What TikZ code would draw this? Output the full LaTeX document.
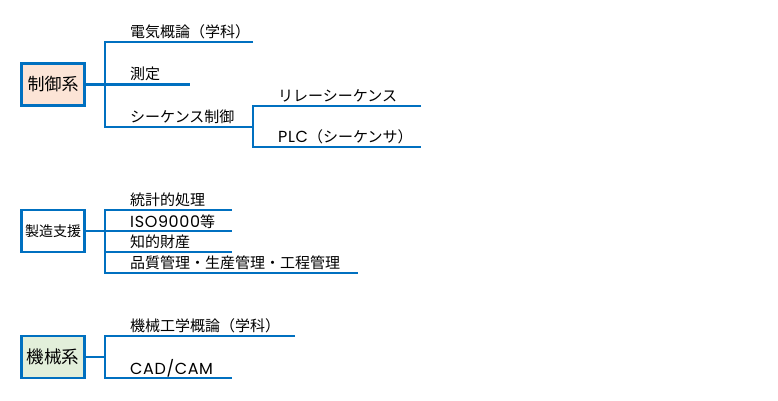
\documentclass[tikz,border=0pt]{standalone}
\usepackage{fontspec}
\setmainfont{Noto Sans CJK JP}
\newfontfamily\latf{Poppins}[LetterSpace=4]
\newcommand{\wlat}[1]{{\latf\fontsize{16pt}{16pt}\selectfont #1}}
\definecolor{lineblue}{HTML}{0070C0}
\definecolor{peach}{HTML}{FCE4D6}
\definecolor{lightgreen}{HTML}{E2EFDA}
\tikzset{
  topicbox/.style={draw=lineblue, line width=2.6pt, rectangle, minimum width=63.4pt, minimum height=41.8pt, inner sep=0pt, text=black},
  conn/.style={draw=lineblue, line width=2.8pt, line join=miter},
  lbl/.style={anchor=base west, inner sep=0pt, font=\fontsize{15pt}{15pt}\selectfont, text=black},
}
\begin{document}
\begin{tikzpicture}[x=1pt,y=-1pt]
\useasboundingbox (0,0) rectangle (778,400);

% ---------- group 1 ----------
\node[topicbox, fill=peach, font=\fontsize{17pt}{17pt}\selectfont] (b1) at (53,84.3) {制御系};
\coordinate (t1a) at (105,42);
\coordinate (t1m) at (105,84.3);
\coordinate (t1b) at (105,127);
\coordinate (e1a) at (253,42);
\coordinate (e1m) at (190,84.3);
\coordinate (s1a) at (253,106);
\coordinate (s1m) at (253,127);
\coordinate (s1b) at (253,147);
\coordinate (f1a) at (421,106);
\coordinate (f1b) at (421,147);
\draw[conn] (b1.east) -- (t1m);
\draw[conn] (e1a) -- (t1a) -- (t1b) -- (s1m);
\draw[conn] (t1m) -- (e1m);
\draw[conn] (f1a) -- (s1a) -- (s1b) -- (f1b);
\node[lbl] (l11) at (130,37.5) {電気概論（学科）};
\node[lbl] (l12) at (130,79.8) {測定};
\node[lbl] (l13) at (130,122.5) {シーケンス制御};
\node[lbl] (l14) at (278,101.5) {リレーシーケンス};
\node[lbl] (l15) at (278,142.5) {\wlat{PLC}（シーケンサ）};

% ---------- group 2 ----------
\node[topicbox, fill=white, font=\fontsize{14pt}{14pt}\selectfont] (b2) at (53,231) {製造支援};
\coordinate (t2a) at (105,210);
\coordinate (t2m) at (105,231);
\coordinate (t2n) at (105,252);
\coordinate (t2b) at (105,273);
\coordinate (e2a) at (232,210);
\coordinate (e2m) at (232,231);
\coordinate (e2n) at (232,252);
\coordinate (e2b) at (358,273);
\draw[conn] (b2.east) -- (t2m);
\draw[conn] (e2a) -- (t2a) -- (t2b) -- (e2b);
\draw[conn] (t2m) -- (e2m);
\draw[conn] (t2n) -- (e2n);
\node[lbl] (l21) at (130,205.8) {統計的処理};
\node[lbl] (l22) at (130,227.5) {\wlat{ISO9000}等};
\node[lbl] (l23) at (130,247.8) {知的財産};
\node[lbl] (l24) at (130,268.8) {品質管理・生産管理・工程管理};

% ---------- group 3 ----------
\node[topicbox, fill=lightgreen, font=\fontsize{17.5pt}{17.5pt}\selectfont] (b3) at (53,357) {機械系};
\coordinate (t3a) at (105,336);
\coordinate (t3m) at (105,357);
\coordinate (t3b) at (105,378);
\coordinate (e3a) at (295,336);
\coordinate (e3b) at (232,378);
\draw[conn] (b3.east) -- (t3m);
\draw[conn] (e3a) -- (t3a) -- (t3b) -- (e3b);
\node[lbl] (l31) at (130,331.8) {機械工学概論（学科）};
\node[lbl] (l32) at (130,374.5) {\wlat{CAD/CAM}};
\end{tikzpicture}
\end{document}
